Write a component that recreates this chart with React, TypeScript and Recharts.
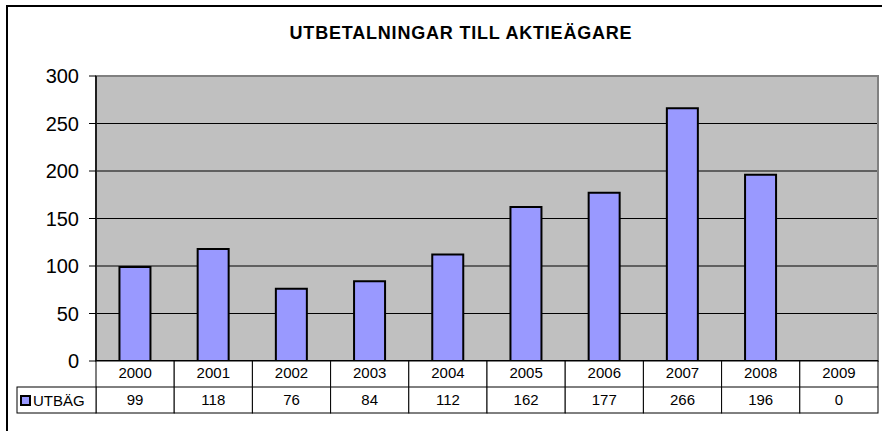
import { Bar, BarChart, CartesianGrid, ReferenceArea, XAxis, YAxis } from "recharts";

const years = ["2000", "2001", "2002", "2003", "2004", "2005", "2006", "2007", "2008", "2009"];
const utbag = [99, 118, 76, 84, 112, 162, 177, 266, 196, 0];
const yTicks = [0, 50, 100, 150, 200, 250, 300];
const seriesName = "UTBÄG";
const title = "UTBETALNINGAR TILL AKTIEÄGARE";

const W = 882;
const H = 431;
const tableH = 70;
const margin = { top: 76, right: 4, left: 0, bottom: 0 };
const plotLeft = 96;
const plotBottom = H - tableH;
const colW = (W - margin.right - plotLeft) / years.length;
const rowH = 26;
const font = "Arial, 'Liberation Sans', sans-serif";

const data = years.map((year, i) => ({ year, value: utbag[i] }));

function TableTick(props: any) {
  const { x, payload } = props;
  const i = payload.index;
  const left = x - colW / 2;
  return (
    <g>
      <rect x={left} y={plotBottom} width={colW} height={rowH * 2} fill="#fff" stroke="#000" strokeWidth={1} />
      <line x1={left} x2={left + colW} y1={plotBottom + rowH} y2={plotBottom + rowH} stroke="#000" strokeWidth={1} />
      <text x={x} y={plotBottom + 17} textAnchor="middle" fontSize={15} fontFamily={font} fill="#000">
        {payload.value}
      </text>
      <text x={x} y={plotBottom + rowH + 18} textAnchor="middle" fontSize={15} fontFamily={font} fill="#000">
        {utbag[i]}
      </text>
      {i === 0 ? (
        <g>
          <rect x={17} y={plotBottom + rowH} width={left - 17} height={rowH} fill="#fff" stroke="#000" strokeWidth={1} />
          <rect x={21} y={plotBottom + rowH + 9} width={9} height={9} fill="#9999FF" stroke="#000" strokeWidth={2} />
          <text x={33} y={plotBottom + rowH + 19} fontSize={15} fontFamily={font} fill="#000">
            {seriesName}
          </text>
        </g>
      ) : null}
    </g>
  );
}

export default function App() {
  return (
    <div style={{ position: "absolute", left: 0, top: 0, width: W, height: H, background: "#fff", overflow: "hidden" }}>
      <div
        style={{
          position: "absolute",
          left: 6,
          top: 5,
          width: W + 20,
          height: H + 20,
          border: "2px solid #000",
          boxSizing: "border-box",
        }}
      />
      <div
        style={{
          position: "absolute",
          left: 0,
          top: 23,
          width: 922,
          textAlign: "center",
          fontFamily: font,
          fontWeight: "bold",
          fontSize: 18,
          letterSpacing: 0.8,
          color: "#000",
        }}
      >
        {title}
      </div>
      <div style={{ position: "absolute", left: 0, top: 0 }}>
        <BarChart width={W} height={H} data={data} margin={margin} barCategoryGap="30%">
          <CartesianGrid vertical={false} stroke="#000" strokeWidth={1} fill="#C0C0C0" fillOpacity={1} />
          <ReferenceArea y1={0} y2={300} fill="none" stroke="#808080" strokeWidth={2} ifOverflow="visible" />
          <YAxis
            domain={[0, 300]}
            ticks={yTicks}
            width={plotLeft}
            tickSize={7}
            tickMargin={10}
            axisLine={{ stroke: "#000", strokeWidth: 1.5 }}
            tickLine={{ stroke: "#000" }}
            tick={{ fill: "#000", fontSize: 20, fontFamily: font }}
            interval={0}
          />
          <XAxis
            dataKey="year"
            height={tableH}
            tickLine={false}
            axisLine={{ stroke: "#000", strokeWidth: 2 }}
            tick={<TableTick />}
            interval={0}
          />
          <Bar dataKey="value" fill="#9999FF" stroke="#000" strokeWidth={2} isAnimationActive={false} />
        </BarChart>
      </div>
    </div>
  );
}
